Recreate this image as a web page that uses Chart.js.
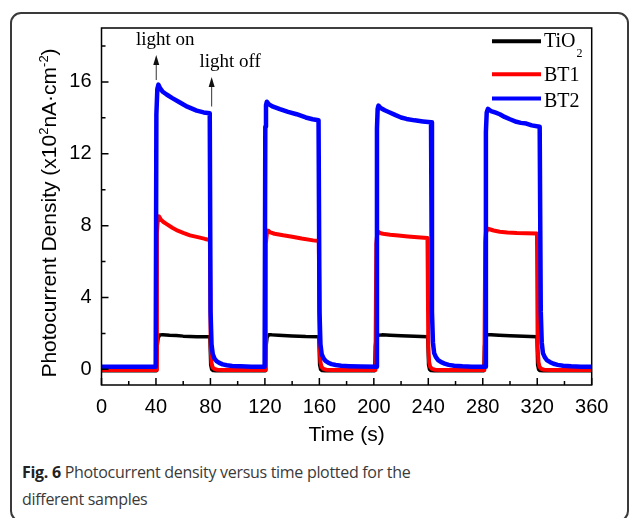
<!DOCTYPE html>
<html>
<head>
<meta charset="utf-8">
<title>Photocurrent density versus time</title>
<script src="https://cdn.jsdelivr.net/npm/chart.js@4.4.1/dist/chart.umd.min.js"></script>
<style>
  html, body { margin: 0; padding: 0; background: #fff; }
  body { width: 629px; height: 518px; position: relative; overflow: hidden; }
  .frame {
    position: absolute; left: 10px; top: 12px; width: 619px; height: 510px;
    border: 2px solid #3a3a3a; border-radius: 11px; box-sizing: border-box;
  }
  #chart { position: absolute; left: 0; top: 0; }
  .caption {
    position: absolute; left: 22px; top: 459px;
    font-family: "Open Sans", sans-serif; font-size: 16px; line-height: 26.5px;
    color: #3a3a3a; letter-spacing: -0.3px; white-space: nowrap;
  }
  .caption b { color: #222; font-weight: 700; }
</style>
</head>
<body>
<div class="frame"></div>
<canvas id="chart" width="629" height="450"></canvas>
<div class="caption"><b>Fig. 6</b> Photocurrent density versus time plotted for the<br>different samples</div>

<script>
// tick positions
const xMajor = [0, 40, 80, 120, 160, 200, 240, 280, 320, 360];
const xMinor = [20, 60, 100, 140, 180, 220, 260, 300, 340];
const yMajor = [0, 4, 8, 12, 16];
const yMinor = [2, 6, 10, 14, 18];

// [time (s), photocurrent (x10^2 nA/cm2)]
const tio2 = [
  [0, -0.08], [40.4, -0.08], [40.9, 1.3], [41.6, 1.75], [42.8, 1.92], [45, 1.93], [50, 1.9], [55, 1.88], [60, 1.85], [70, 1.82], [79.6, 1.81],
  [80.2, 0.25], [80.9, 0.0], [82, -0.07], [84, -0.08], [120.4, -0.08],
  [120.9, 1.3], [121.6, 1.78], [122.8, 1.92], [125, 1.92], [130, 1.9], [140, 1.86], [150, 1.83], [159.6, 1.82],
  [160.2, 0.25], [160.9, 0.0], [162, -0.07], [164, -0.08], [200.6, -0.08],
  [201.1, 1.3], [201.8, 1.78], [203, 1.9], [206, 1.92], [212, 1.9], [220, 1.87], [230, 1.84], [239.6, 1.82],
  [240.2, 0.25], [240.9, 0.0], [242, -0.07], [244, -0.08], [280.8, -0.08],
  [281.3, 1.3], [282, 1.78], [283.2, 1.92], [286, 1.93], [292, 1.9], [300, 1.87], [310, 1.84], [319.8, 1.82],
  [320.3, 0.25], [321, 0.0], [322, -0.07], [324, -0.08], [360, -0.08]
];

const bt1 = [
  [0, -0.03], [40.2, -0.03], [40.7, 7.6], [41.4, 8.35], [42.2, 8.52], [43.5, 8.35], [45.5, 8.2], [47.9, 8.08], [52, 7.88], [56, 7.72], [60, 7.6], [65, 7.46], [72.3, 7.33], [76, 7.26], [79.6, 7.2],
  [80.2, 1.2], [80.8, 0.35], [81.6, 0.12], [83, 0.02], [85, -0.02], [90, -0.03], [120.2, -0.03],
  [120.7, 7.0], [121.5, 7.6], [122.4, 7.72], [124, 7.62], [127, 7.55], [133.4, 7.46], [140, 7.38], [147, 7.28], [155.4, 7.18], [159.6, 7.14],
  [160.2, 1.3], [160.8, 0.4], [161.6, 0.14], [163, 0.03], [165, -0.02], [170, -0.03], [201.2, -0.03],
  [201.8, 7.0], [202.5, 7.55], [203.2, 7.66], [205, 7.58], [208, 7.53], [212, 7.49], [218, 7.45], [225, 7.4], [232, 7.36], [239.4, 7.31],
  [240.0, 1.3], [240.6, 0.4], [241.4, 0.14], [242.8, 0.03], [245, -0.02], [250, -0.03], [281.2, -0.03],
  [281.8, 7.1], [282.4, 7.7], [283, 7.84], [285, 7.8], [288, 7.73], [292.5, 7.66], [298, 7.62], [305, 7.59], [312, 7.58], [319.8, 7.56],
  [320.3, 1.3], [320.9, 0.4], [321.7, 0.14], [323, 0.03], [325, -0.02], [330, -0.03], [360, -0.03]
];

const bt2 = [
  [0, 0.15], [39.8, 0.15], [40.3, 14.2], [41, 15.6], [41.8, 15.85], [43, 15.65], [45, 15.45], [47.8, 15.3], [52, 15.1], [57.6, 14.85], [63, 14.62], [69.9, 14.4], [75, 14.3], [79.5, 14.25],
  [80.1, 3.2], [80.8, 1.4], [81.7, 0.85], [83, 0.6], [84.5, 0.46], [86.5, 0.36], [89, 0.28], [92, 0.23], [96, 0.19], [102, 0.17], [110, 0.15], [119.8, 0.15],
  [120.3, 13.5], [120.8, 14.7], [121.4, 14.9], [123, 14.75], [126, 14.62], [131, 14.48], [137, 14.33], [143.3, 14.2], [150, 14.02], [155, 13.92], [159.4, 13.87],
  [160.1, 3.2], [160.8, 1.4], [161.7, 0.85], [163, 0.62], [164.5, 0.47], [166.5, 0.37], [169, 0.29], [172, 0.24], [176, 0.2], [182, 0.18], [190, 0.16], [201.8, 0.15],
  [202.3, 13.4], [202.8, 14.5], [203.4, 14.68], [205, 14.55], [208, 14.42], [211.7, 14.3], [216, 14.15], [220, 14.02], [224, 13.94], [230, 13.86], [236, 13.8], [242, 13.75],
  [242.7, 3.2], [243.4, 1.5], [244.3, 0.9], [245.6, 0.68], [247.2, 0.52], [249.5, 0.4], [252, 0.32], [255, 0.25], [259, 0.2], [265, 0.17], [272, 0.15], [281.8, 0.15],
  [282.3, 13.2], [282.9, 14.3], [283.8, 14.5], [286, 14.38], [289, 14.3], [292.5, 14.2], [296, 14.05], [300, 13.92], [304.7, 13.78], [308, 13.72], [312, 13.68], [316, 13.58], [321.8, 13.5],
  [322.6, 3.2], [323.3, 1.5], [324.2, 0.9], [325.5, 0.68], [327, 0.52], [329.5, 0.4], [332, 0.31], [335, 0.25], [339, 0.2], [345, 0.17], [352, 0.15], [360, 0.15]
];

function toPoints(arr) {
  return arr.map(p => ({ x: p[0], y: p[1] }));
}

// frame, inward ticks, titles, legend and the light on/off arrows
const decorPlugin = {
  id: 'decor',
  afterDraw(chart) {
    const ctx = chart.ctx;
    const a = chart.chartArea;
    const xs = chart.scales.x;
    const ys = chart.scales.y;
    ctx.save();

    ctx.strokeStyle = '#000';
    ctx.lineWidth = 1.5;
    ctx.beginPath();
    xMajor.forEach(v => { const p = xs.getPixelForValue(v); ctx.moveTo(p, a.bottom); ctx.lineTo(p, a.bottom - 7); });
    xMinor.forEach(v => { const p = xs.getPixelForValue(v); ctx.moveTo(p, a.bottom); ctx.lineTo(p, a.bottom - 4); });
    yMajor.forEach(v => { const p = ys.getPixelForValue(v); ctx.moveTo(a.left, p); ctx.lineTo(a.left + 7, p); });
    yMinor.forEach(v => { const p = ys.getPixelForValue(v); ctx.moveTo(a.left, p); ctx.lineTo(a.left + 4, p); });
    ctx.stroke();
    ctx.strokeRect(a.left, a.top, a.right - a.left, a.bottom - a.top);

    // x title
    ctx.fillStyle = '#000';
    ctx.font = '21px "Liberation Sans", Arial, sans-serif';
    ctx.textAlign = 'center';
    ctx.textBaseline = 'alphabetic';
    ctx.fillText('Time (s)', (a.left + a.right) / 2, 441);

    // y title with superscripts
    const parts = [
      ['Photocurrent Density (x10', 21, 0],
      ['2', 13, -8],
      ['nA\u00b7cm', 21, 0],
      ['-2', 13, -8],
      [')', 21, 0]
    ];
    ctx.save();
    ctx.translate(55.5, 213);
    ctx.rotate(-Math.PI / 2);
    ctx.textAlign = 'left';
    let total = 0;
    parts.forEach(p => { ctx.font = p[1] + 'px "Liberation Sans", Arial, sans-serif'; total += ctx.measureText(p[0]).width; });
    let cx = -total / 2;
    parts.forEach(p => {
      ctx.font = p[1] + 'px "Liberation Sans", Arial, sans-serif';
      ctx.fillText(p[0], cx, p[2]);
      cx += ctx.measureText(p[0]).width;
    });
    ctx.restore();

    // legend
    const legend = [
      { color: '#000000', y: 41.2, base: 46.5, label: 'TiO', sub: '2' },
      { color: '#ff0000', y: 74.2, base: 80.5, label: 'BT1' },
      { color: '#0000ff', y: 98.5, base: 106.5, label: 'BT2' }
    ];
    ctx.lineWidth = 4;
    ctx.textAlign = 'left';
    legend.forEach(item => {
      ctx.strokeStyle = item.color;
      ctx.beginPath();
      ctx.moveTo(492, item.y);
      ctx.lineTo(541, item.y);
      ctx.stroke();
      ctx.fillStyle = '#000';
      ctx.font = '20px "Liberation Serif", "Times New Roman", serif';
      ctx.fillText(item.label, 544, item.base);
      if (item.sub) {
        const w = ctx.measureText(item.label).width;
        ctx.font = '12px "Liberation Serif", "Times New Roman", serif';
        ctx.fillText(item.sub, 544 + w + 1, item.base + 10);
      }
    });

    // light on / light off
    ctx.font = '19px "Liberation Serif", "Times New Roman", serif';
    ctx.fillStyle = '#000';
    ctx.fillText('light on', 136, 45);
    ctx.fillText('light off', 199.5, 67);
    const arrow = (x, y0, y1) => {
      ctx.strokeStyle = '#333';
      ctx.lineWidth = 1;
      ctx.beginPath();
      ctx.moveTo(x, y0);
      ctx.lineTo(x, y1 + 8);
      ctx.stroke();
      ctx.fillStyle = '#111';
      ctx.beginPath();
      ctx.moveTo(x, y1);
      ctx.lineTo(x - 3, y1 + 10);
      ctx.lineTo(x + 3, y1 + 10);
      ctx.closePath();
      ctx.fill();
    };
    arrow(xs.getPixelForValue(40.2), 80, 55);
    arrow(xs.getPixelForValue(80.9), 106.5, 77);

    ctx.restore();
  }
};

new Chart(document.getElementById('chart'), {
  type: 'line',
  data: {
    datasets: [
      { label: 'BT2', data: toPoints(bt2), borderColor: '#0000ff', borderWidth: 4.5, order: 1 },
      { label: 'BT1', data: toPoints(bt1), borderColor: '#ff0000', borderWidth: 4, order: 2 },
      { label: 'TiO2', data: toPoints(tio2), borderColor: '#000000', borderWidth: 3.5, order: 3 }
    ]
  },
  options: {
    responsive: false,
    animation: false,
    devicePixelRatio: 1,
    parsing: false,
    elements: {
      point: { radius: 0 },
      line: { tension: 0, borderJoinStyle: 'round', borderCapStyle: 'round' }
    },
    layout: { padding: { left: 0, top: 28, right: 37.3, bottom: 0 } },
    plugins: { legend: { display: false }, tooltip: { enabled: false } },
    scales: {
      x: {
        type: 'linear',
        min: 0,
        max: 360,
        afterBuildTicks: s => { s.ticks = xMajor.map(v => ({ value: v })); },
        afterFit: s => { s.height = 65; },
        grid: { display: false, drawTicks: false },
        border: { display: false },
        ticks: { padding: 10, color: '#000', font: { family: '"Liberation Sans", Arial, sans-serif', size: 20 }, maxRotation: 0 }
      },
      y: {
        type: 'linear',
        min: -0.87,
        max: 19,
        afterBuildTicks: s => { s.ticks = yMajor.map(v => ({ value: v })); },
        afterFit: s => { s.width = 101.5; },
        grid: { display: false, drawTicks: false },
        border: { display: false },
        ticks: { padding: 10, color: '#000', font: { family: '"Liberation Sans", Arial, sans-serif', size: 20 } }
      }
    }
  },
  plugins: [decorPlugin]
});
</script>
</body>
</html>
